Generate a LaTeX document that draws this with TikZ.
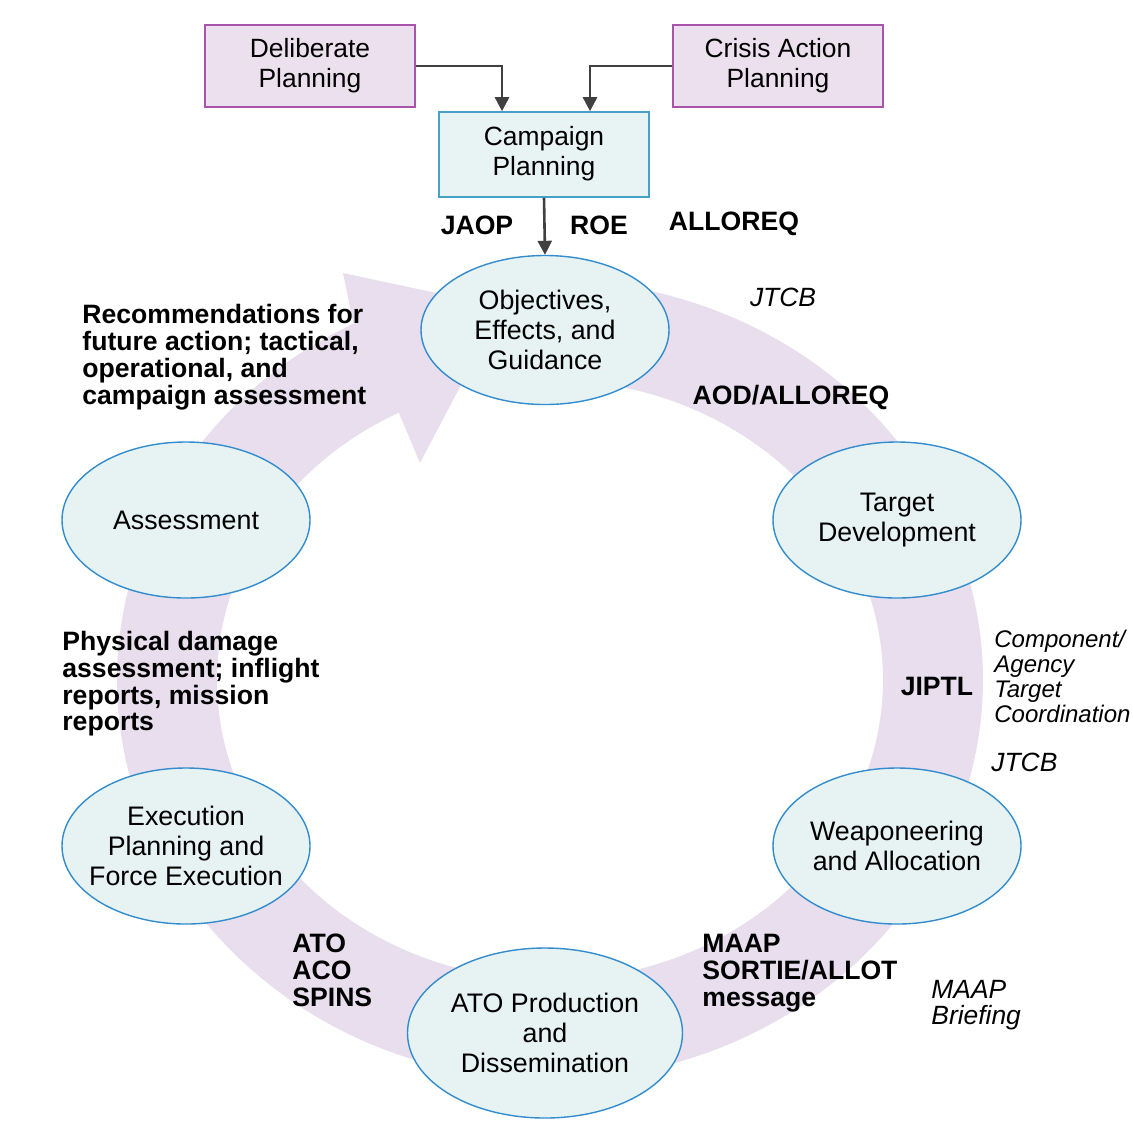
\documentclass[tikz,border=0pt]{standalone}
\usepackage{fontspec}
\setmainfont{Liberation Sans}
\usetikzlibrary{shapes.geometric,arrows.meta}
\definecolor{ringfill}{RGB}{233,222,238}
\definecolor{planfill}{RGB}{236,224,238}
\definecolor{planline}{RGB}{168,84,170}
\definecolor{campfill}{RGB}{232,243,243}
\definecolor{campline}{RGB}{70,160,200}
\definecolor{stagefill}{RGB}{230,243,242}
\definecolor{stageline}{RGB}{50,140,205}
\definecolor{flowcol}{RGB}{64,64,64}
\begin{document}
\begin{tikzpicture}[x=0.5pt,y=-0.5pt,
  planbox/.style={draw=planline,fill=planfill,line width=0.8pt,minimum width=105pt,minimum height=41pt,align=center,inner sep=0pt,font=\fontsize{13.2}{15}\selectfont},
  campbox/.style={planbox,draw=campline,fill=campfill,minimum height=42.5pt},
  stage/.style={ellipse,draw=stageline,fill=stagefill,line width=0.7pt,minimum width=124pt,minimum height=78pt,align=center,inner sep=0pt,font=\fontsize{13.4}{15}\selectfont},
  flow/.style={draw=flowcol,line width=1.3pt,-{Triangle[length=7pt,width=7pt]}},
  prod/.style={font=\bfseries\fontsize{13.3}{13.5}\selectfont,align=left,inner sep=0pt},
  forum/.style={font=\itshape\fontsize{13.2}{13}\selectfont,align=left,inner sep=0pt}]
\useasboundingbox (0,0) rectangle (1133,1121);

%Shape: ring with arrow head
\fill[ringfill] plot[domain=0:323,samples=120,smooth,variable=\t] ({550+433*cos(80-\t)},{680-400*sin(80-\t)})
  -- (343,273) -- (502,307) -- (420,463)
  -- plot[domain=0:323,samples=120,smooth,variable=\t] ({550+333*cos(\t-243)},{680-300*sin(\t-243)}) -- cycle;

%Planning boxes
\node[planbox] (delib) at (310,66) {\strut Deliberate\\\strut Planning};
\node[planbox] (crisis) at (778,66) {\strut Crisis Action\\\strut Planning};
\node[campbox] (camp) at (544,154.5) {\strut Campaign\\\strut Planning};

%Stages
\node[stage,minimum height=74.5pt] (obj) at (545,330) {Objectives,\\Effects, and\\Guidance};
\node[stage] (tdev) at (897,520) {Target\\Development};
\node[stage] (weap) at (897,846) {Weaponeering\\and Allocation};
\node[stage,minimum width=137.5pt,minimum height=85pt] (atoprod) at (545,1033) {ATO Production\\and\\Dissemination};
\node[stage,inner xsep=-5pt] (exec) at (186,846) {Execution\\Planning and\\Force Execution};
\node[stage] (assess) at (186,520) {Assessment};

%Connectors
\coordinate (campinL) at ([xshift=-21pt]camp.north);
\coordinate (campinR) at ([xshift=23pt]camp.north);
\draw[flow] (delib.east) -| (campinL);
\draw[flow] (crisis.west) -| (campinR);
\draw[flow] (camp.south) -- (obj.north);

% Text Node
\node[prod] (jaop) at (477,225) {JAOP};
\node[prod] (roe) at (599,225) {ROE};
\node[prod] (alloreq) at (734,224) {ALLOREQ};
\node[forum] (jtcbA) at (783,297) {JTCB};
\node[prod] (aod) at (791,397) {AOD/ALLOREQ};
\node[prod] (jiptl) at (937,686) {JIPTL};
\node[forum,anchor=west,font=\itshape\fontsize{12}{12.5}\selectfont] (compagency) at (994,676) {Component/\\Agency\\Target\\Coordination};
\node[forum,anchor=west] (jtcbB) at (991,762) {JTCB};
\node[prod,anchor=west] (maap) at (702,973) {MAAP\\SORTIE/ALLOT\\message};
\node[forum,anchor=west] (maapbrief) at (931,1005) {MAAP\\Briefing};
\node[prod,anchor=west] (atoaco) at (292,970) {ATO\\ACO\\SPINS};
\node[prod,anchor=west,font=\bfseries\fontsize{13.3}{13.3}\selectfont] (bda) at (62,684) {Physical damage\\assessment; inflight\\reports, mission\\reports};
\node[prod,anchor=west] (recs) at (82,357) {Recommendations for\\future action; tactical,\\operational, and\\campaign assessment};

\end{tikzpicture}
\end{document}
